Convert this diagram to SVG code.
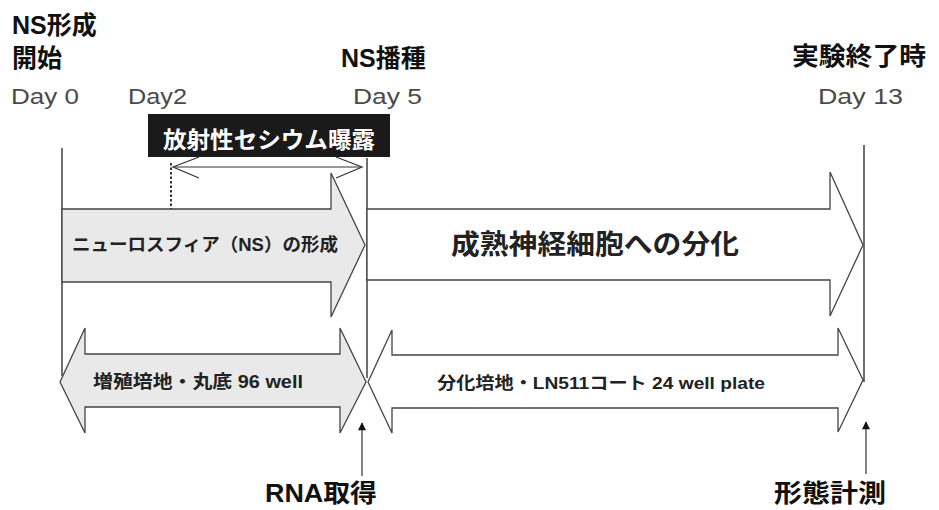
<svg xmlns="http://www.w3.org/2000/svg" width="939" height="510" viewBox="0 0 939 510">
<style>
.hd{font-family:"Liberation Sans","Noto Sans CJK JP",sans-serif;font-weight:bold;font-size:25px;fill:#111}
.day{font-family:"Liberation Sans","Noto Sans CJK JP",sans-serif;font-size:22px;fill:#4a4a4a}
.lbl{font-family:"Liberation Sans","Noto Sans CJK JP",sans-serif;font-weight:bold;fill:#222}
.vl{stroke:#222;stroke-width:1.3;fill:none}
.blk{stroke:#444;stroke-width:1.3;stroke-linejoin:miter}
.gray{fill:#e9e9e9}
.white{fill:#fff}
.thin{stroke:#333;stroke-width:1.2;fill:none}
</style>
<defs>
<marker id="ah" viewBox="0 0 10 10" refX="9" refY="5" markerWidth="10" markerHeight="8" orient="auto" markerUnits="userSpaceOnUse">
<path d="M0,0 L10,5 L0,10 Z" fill="#111"/>
</marker>
</defs>
<rect width="939" height="510" fill="#fff"/>

<g id="headers">
<text class="hd" x="12" y="34">NS形成</text>
<text class="hd" x="12" y="67">開始</text>
<text class="hd" x="341" y="67">NS播種</text>
<text class="hd" x="792" y="65" textLength="134" lengthAdjust="spacingAndGlyphs">実験終了時</text>
</g>

<g id="days">
<text class="day" x="11" y="104" textLength="68" lengthAdjust="spacingAndGlyphs">Day 0</text>
<text class="day" x="128" y="104" textLength="59" lengthAdjust="spacingAndGlyphs">Day2</text>
<text class="day" x="353" y="104" textLength="69" lengthAdjust="spacingAndGlyphs">Day 5</text>
<text class="day" x="818" y="104" textLength="85" lengthAdjust="spacingAndGlyphs">Day 13</text>
</g>

<g id="timelines">
<line class="vl" x1="62" y1="148" x2="62" y2="376"/>
<line class="vl" x1="367" y1="158" x2="367" y2="378"/>
<line class="vl" x1="864" y1="145" x2="864" y2="382"/>
<line x1="171" y1="163" x2="171" y2="209" stroke="#222" stroke-width="1.8" stroke-dasharray="2.5,2"/>
</g>

<g id="exposure">
<rect x="148" y="114" width="242" height="43" fill="#1a1a1a"/>
<text x="269" y="148" text-anchor="middle" font-family="Noto Sans CJK JP, sans-serif" font-weight="bold" font-size="23" fill="#fff" textLength="212" lengthAdjust="spacingAndGlyphs">放射性セシウム曝露</text>
<g class="thin" stroke-width="2.2">
<line x1="173" y1="167" x2="361" y2="167"/>
<polyline points="199,157 173,167 199,178"/>
<polyline points="336,157 362,167 336,178"/>
</g>
</g>

<g id="ns-formation">
<polygon class="blk gray" points="62,209 331,209 331,173 365,245 331,317 331,282 62,282"/>
<text class="lbl" x="72" y="251" font-size="18" textLength="266" lengthAdjust="spacingAndGlyphs">ニューロスフィア（NS）の形成</text>
</g>

<g id="differentiation">
<polygon class="blk white" points="367,209 830,209 830,172 863,245 830,316 830,280 367,280"/>
<text class="lbl" x="451" y="254" font-size="27" fill="#111" textLength="288" lengthAdjust="spacingAndGlyphs">成熟神経細胞への分化</text>
</g>

<g id="medium-96">
<polygon class="blk gray" points="60,382 85,328 85,354 340,354 340,328 366,382 340,433 340,407 85,407 85,433"/>
<text class="lbl" x="93" y="388" font-size="18" textLength="210" lengthAdjust="spacingAndGlyphs">増殖培地・丸底 96 well</text>
</g>

<g id="medium-24">
<polygon class="blk white" points="368,382 392,330 392,355 838,355 838,328 863,380 838,432 838,408 392,408 392,433"/>
<text class="lbl" x="437" y="389" font-size="17" fill="#333" textLength="328" lengthAdjust="spacingAndGlyphs">分化培地・LN511コート 24 well plate</text>
</g>

<g id="connectors">
<line class="thin" x1="362" y1="476" x2="362" y2="423" marker-end="url(#ah)"/>
<line class="thin" x1="866" y1="474" x2="866" y2="422" marker-end="url(#ah)"/>
</g>

<g id="rna">
<text class="hd" x="265" y="502" font-size="25" textLength="112" lengthAdjust="spacingAndGlyphs">RNA取得</text>
</g>
<g id="morphology">
<text class="hd" x="774" y="502" font-size="26" textLength="112" lengthAdjust="spacingAndGlyphs">形態計測</text>
</g>
</svg>
